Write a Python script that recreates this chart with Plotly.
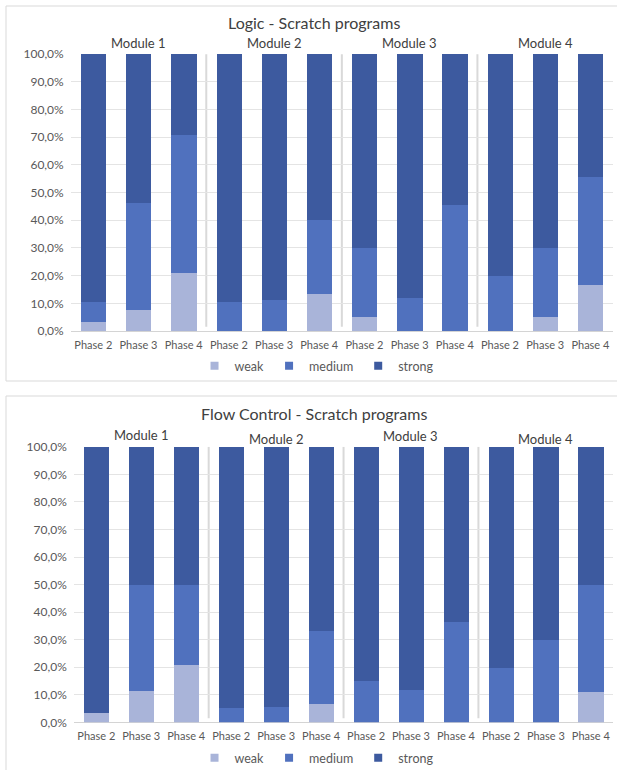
import plotly.graph_objects as go

W, H = 617, 770

modules = ["Module 1", "Module 2", "Module 3", "Module 4"]
phases = ["Phase 2", "Phase 3", "Phase 4"]
levels = ["weak", "medium", "strong"]
level_colors = {"weak": "#A9B4D9", "medium": "#5071BE", "strong": "#3D5A9F"}

# Logic: share of programs (%) per module/phase at each level (strong = remainder)
logic_weak = [3.4, 7.7, 20.8, 0.0, 0.0, 13.3, 5.0, 0.0, 0.0, 0.0, 5.0, 16.7]
logic_medium = [6.9, 38.5, 50.0, 10.5, 11.2, 26.7, 25.0, 12.0, 45.6, 20.0, 25.0, 38.9]

# Flow Control
flow_weak = [3.5, 11.5, 20.8, 0.0, 0.0, 6.7, 0.0, 0.0, 0.0, 0.0, 0.0, 11.1]
flow_medium = [0.0, 38.5, 29.2, 5.4, 5.7, 26.6, 15.1, 11.9, 36.5, 20.0, 30.0, 38.9]

titles = ["Logic - Scratch programs", "Flow Control - Scratch programs"]


def px(x):
    return x / W


def py(y):
    return 1 - y / H


def strong_of(weak, medium):
    return [round(100 - w - m, 1) for w, m in zip(weak, medium)]


n = len(modules) * len(phases)
xpos = list(range(n))
phase_text = [phases[i % len(phases)] for i in range(n)]

fig = go.Figure()

panels = [
    dict(weak=logic_weak, medium=logic_medium, xa="x", ya="y", leg="legend",
         plot=(70.7, 613.0, 54.0, 331.0), title_y=22.5, mod_y=[43, 43, 43, 43],
         legend_y=366, box=(6, 381)),
    dict(weak=flow_weak, medium=flow_medium, xa="x2", ya="y2", leg="legend2",
         plot=(73.8, 613.3, 446.7, 722.3), title_y=414, mod_y=[435, 439, 436, 439],
         legend_y=758, box=(396, 800)),
]

for k, p in enumerate(panels):
    series = {
        "weak": p["weak"],
        "medium": p["medium"],
        "strong": strong_of(p["weak"], p["medium"]),
    }
    for lvl in levels:
        fig.add_trace(go.Bar(
            x=xpos, y=[v / 100 for v in series[lvl]], name=lvl,
            marker=dict(color=level_colors[lvl], line=dict(width=0)),
            width=0.56, xaxis=p["xa"], yaxis=p["ya"], legendgroup=f"{k}-{lvl}",
            showlegend=False, hoverinfo="skip",
        ))
    # legend keys: small square swatches
    for lvl in levels:
        fig.add_trace(go.Scatter(
            x=[None], y=[None], mode="markers", name=lvl,
            marker=dict(symbol="square", size=8, color=level_colors[lvl]),
            xaxis=p["xa"], yaxis=p["ya"], legend=p["leg"], legendgroup=f"{k}-{lvl}",
            showlegend=True, hoverinfo="skip",
        ))

axis_font = dict(family="Lato", size=12, color="#595959")
phase_font = dict(family="Lato", size=11, color="#595959")
layout = dict(
    width=W, height=H, margin=dict(l=0, r=0, t=0, b=0, autoexpand=False),
    paper_bgcolor="white", plot_bgcolor="white",
    barmode="stack", bargap=0, separators=",.",
    font=dict(family="Lato", color="#595959"),
    showlegend=True,
)

shapes = []
annotations = []
for k, p in enumerate(panels):
    sfx = "" if k == 0 else str(k + 1)
    x0, x1, y0, y1 = p["plot"]
    layout["xaxis" + sfx] = dict(
        domain=[px(x0), px(x1)], range=[-0.5, n - 0.5],
        tickvals=xpos, ticktext=phase_text, tickfont=phase_font,
        showgrid=False, zeroline=False, showline=False, ticks="",
        ticklabelstandoff=6, anchor="y" + sfx, fixedrange=True,
    )
    layout["yaxis" + sfx] = dict(
        domain=[py(y1), py(y0)], range=[0, 1.0005],
        tickvals=[i / 10 for i in range(11)], tickformat=".1%",
        tickfont=axis_font, showgrid=True, gridcolor="#E4E4E4", gridwidth=1,
        zeroline=True, zerolinecolor="#D4D4D4", zerolinewidth=1,
        showline=False, ticks="", ticklabelstandoff=6,
        anchor="x" + sfx, fixedrange=True,
    )
    layout[p["leg"]] = dict(
        orientation="h", x=0.513, xanchor="center", y=py(p["legend_y"]), yanchor="middle",
        font=dict(family="Lato", size=12.5, color="#595959"),
        itemwidth=30, bgcolor="rgba(0,0,0,0)", traceorder="normal",
        itemclick=False, itemdoubleclick=False, tracegroupgap=0,
    )
    # panel frame
    by0, by1 = p["box"]
    shapes.append(dict(type="rect", xref="paper", yref="paper",
                       x0=px(6), x1=px(640), y0=py(by1), y1=py(by0),
                       line=dict(color="#D9D9D9", width=1), fillcolor="rgba(0,0,0,0)",
                       layer="below"))
    # module separators
    for b in range(1, len(modules)):
        sx = b * len(phases) - 0.5
        shapes.append(dict(type="line", xref="x" + sfx, yref="y" + sfx,
                           x0=sx, x1=sx, y0=0.015, y1=1.0,
                           line=dict(color="#D9D9D9", width=2), layer="below"))
    # module headers
    for m, name in enumerate(modules):
        annotations.append(dict(
            x=m * len(phases) + 1, xref="x" + sfx, y=py(p["mod_y"][m]), yref="paper",
            text=name, showarrow=False, xanchor="center", yanchor="middle",
            font=dict(family="Lato", size=13, color="#404040"),
        ))
    annotations.append(dict(
        x=px(313.5), xref="paper", y=py(p["title_y"]), yref="paper",
        text=titles[k], showarrow=False, xanchor="center", yanchor="middle",
        font=dict(family="Lato", size=16, color="#404040"),
    ))

layout["shapes"] = shapes
layout["annotations"] = annotations
fig.update_layout(**layout)

fig.write_html("out.html", config={"displayModeBar": False})
